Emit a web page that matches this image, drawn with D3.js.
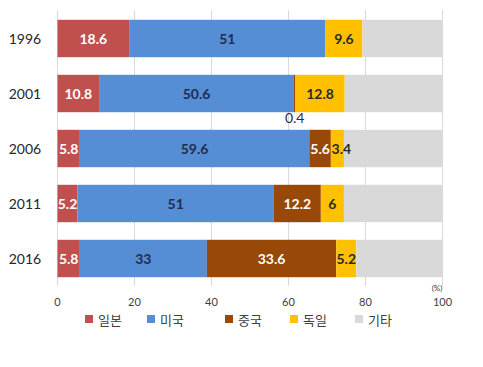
<!DOCTYPE html>
<html><head><meta charset="utf-8">
<script src="https://cdn.jsdelivr.net/npm/d3@7"></script>
<style>body{margin:0;background:#fff}svg{display:block}</style>
</head><body>
<script>
const years = ["1996","2001","2006","2011","2016"];
const seriesNames = ["일본","미국","중국","독일","기타"];
const japan   = [18.6, 10.8, 5.8, 5.2, 5.8];
const usa     = [51, 50.6, 59.6, 51, 33];
const china   = [0, 0.4, 5.6, 12.2, 33.6];
const germany = [9.6, 12.8, 3.4, 6, 5.2];
const other   = [20.8, 25.4, 25.6, 25.6, 22.4];
const ticks = [0,20,40,60,80,100];
const colors = ["#C0504D","#558ED5","#984807","#FFC000","#D9D9D9"];
const labelColors = ["#ffffff","#1F2D4E","#ffffff","#2b2b2b",null];

const W=483,H=367;
const svg=d3.select("body").append("svg").attr("width",W).attr("height",H);
const x=d3.scaleLinear().domain([0,100]).range([57.5,442.5]);
const y=d3.scaleBand().domain(years).range([11,286]).paddingInner(0.32).paddingOuter(0.16);
const font="'Noto Sans CJK KR','Noto Sans',sans-serif";
const numFont="Lato,'Open Sans',sans-serif";

// gridlines
svg.append("g").selectAll("line").data(ticks).join("line")
  .attr("x1",d=>x(d)).attr("x2",d=>x(d)).attr("y1",10).attr("y2",286)
  .attr("stroke","#D9D9D9").attr("stroke-width",1);

const data=years.map((yr,i)=>({year:yr,vals:[japan[i],usa[i],china[i],germany[i],other[i]]}));
const stack=d3.stack().keys([0,1,2,3,4]).value((d,k)=>d.vals[k]);
const stacked=stack(data);

const g=svg.append("g");
stacked.forEach((layer,k)=>{
  g.selectAll(null).data(layer).join("rect")
    .attr("x",d=>x(d[0])).attr("width",d=>x(d[1])-x(d[0]))
    .attr("y",d=>y(d.data.year)).attr("height",y.bandwidth())
    .attr("fill",colors[k]);
});
stacked.forEach((layer,k)=>{
  if(!labelColors[k]) return;
  layer.forEach(d=>{
    const v=d.data.vals[k];
    if(v<=0) return;
    const small=v<1;
    g.append("text")
      .attr("x",(x(d[0])+x(d[1]))/2 + (k===3 && v<4 ? 4 : 0))
      .attr("y",small ? y(d.data.year)+y.bandwidth()+6 : y(d.data.year)+y.bandwidth()/2)
      .attr("dy","0.36em").attr("text-anchor","middle")
      .attr("font-family",numFont).attr("font-size",14).attr("font-weight",small?"normal":"bold")
      .attr("fill",small?"#1F2D4E":labelColors[k]).text(v);
  });
});

// year labels
svg.append("g").selectAll("text").data(years).join("text")
  .attr("x",25).attr("y",d=>y(d)+y.bandwidth()/2).attr("dy","0.36em")
  .attr("text-anchor","middle").attr("font-family",numFont).attr("font-size",14)
  .attr("fill","#262626").text(d=>d);

// x tick labels
svg.append("g").selectAll("text").data(ticks).join("text")
  .attr("x",d=>x(d)).attr("y",302).attr("dy","0.36em")
  .attr("text-anchor","middle").attr("font-family",numFont).attr("font-size",11)
  .attr("fill","#404040").text(d=>d);
svg.append("text").attr("x",437).attr("y",291).attr("text-anchor","middle")
  .attr("font-family",numFont).attr("font-size",8).attr("fill","#404040").text("(%)");

// legend
const legX=[85,147,225,290,355];
const leg=svg.append("g");
seriesNames.forEach((n,i)=>{
  leg.append("rect").attr("x",legX[i]).attr("y",315).attr("width",8).attr("height",8).attr("fill",colors[i]);
  leg.append("text").attr("x",legX[i]+13).attr("y",320).attr("dy","0.36em")
    .attr("font-family",font).attr("font-size",13).attr("fill","#404040").text(n);
});
</script>
</body></html>
